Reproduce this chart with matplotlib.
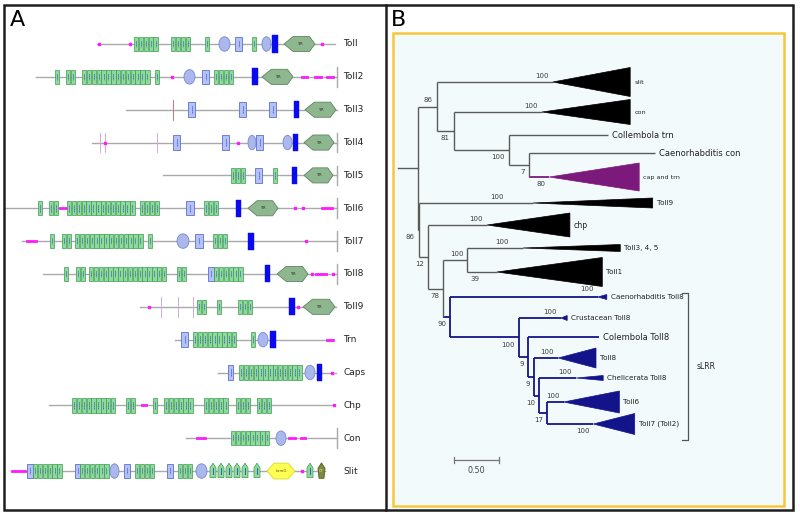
import matplotlib.pyplot as plt
from matplotlib.patches import Rectangle, Ellipse, Polygon

# ---------------- panel A: domain architecture ----------------
proteins = ['Toll', 'Toll2', 'Toll3', 'Toll4', 'Toll5', 'Toll6', 'Toll7',
            'Toll8', 'Toll9', 'Trn', 'Caps', 'Chp', 'Con', 'Slit']
prot_start = [97, 36, 126, 92, 163, 5, 22, 43, 140, 175, 218, 49, 186, 12]
prot_end = [335, 337, 337, 337, 337, 337, 337, 337, 336, 333, 336, 335, 337, 325]
end_tick = [False, True, False, True, True, True, True, True, False, False,
            False, False, True, False]

# (kind, start, end or repeat count)
domains = [
    [('dot', 99, 0), ('dot', 130, 0), ('lrr', 134, 5), ('lrr', 171, 4), ('lrr', 205, 1),
     ('oval', 219, 230), ('box', 235, 242), ('lrr', 252, 1), ('oval', 262, 271),
     ('tm', 272, 278), ('tir', 284, 315), ('dot', 322, 0)],
    [('lrr', 55, 1), ('lrr', 66, 2), ('lrr', 82, 14), ('lrr', 155, 1), ('dot', 172, 0),
     ('oval', 184, 195), ('box', 202, 209), ('lrr', 214, 4), ('tm', 252, 258),
     ('tir', 262, 293), ('dash', 302, 307), ('dash', 315, 321), ('dash', 327, 333)],
    [('thin', 173, 0), ('box', 188, 195), ('box', 239, 246), ('box', 269, 276),
     ('tm', 294, 299), ('tir', 305, 336)],
    [('thin', 100, 0), ('thin', 105, 0), ('dot', 105, 0), ('thin', 157, 0),
     ('box', 173, 180), ('box', 222, 229), ('dot', 238, 0), ('oval', 248, 256),
     ('box', 256, 263), ('oval', 283, 292), ('tm', 293, 298), ('tir', 304, 334)],
    [('lrr', 231, 3), ('box', 255, 262), ('lrr', 273, 1), ('tm', 292, 297),
     ('tir', 304, 333)],
    [('lrr', 38, 1), ('lrr', 49, 2), ('dash', 60, 66), ('lrr', 67, 14), ('lrr', 140, 4),
     ('box', 186, 194), ('lrr', 204, 3), ('tm', 236, 241), ('tir', 248, 278),
     ('dot', 295, 0), ('dot', 303, 0), ('dash', 322, 332)],
    [('dash', 27, 36), ('lrr', 50, 1), ('lrr', 62, 2), ('lrr', 75, 14), ('lrr', 148, 1),
     ('oval', 177, 189), ('box', 195, 203), ('lrr', 213, 3), ('tm', 248, 254),
     ('dot', 306, 0)],
    [('lrr', 64, 1), ('lrr', 76, 2), ('lrr', 89, 16), ('lrr', 177, 2), ('box', 208, 214),
     ('lrr', 214, 6), ('tm', 265, 270), ('tir', 277, 308), ('dot', 312, 0),
     ('dash', 316, 326), ('dot', 333, 0)],
    [('dot', 149, 0), ('thin', 161, 0), ('thin', 178, 0), ('thin', 193, 0),
     ('lrr', 197, 2), ('lrr', 217, 1), ('lrr', 238, 3), ('tm', 289, 295),
     ('dot', 298, 0), ('tir', 303, 335)],
    [('box', 181, 188), ('lrr', 193, 9), ('lrr', 251, 1), ('oval', 258, 268),
     ('tm', 270, 276), ('dash', 327, 333)],
    [('box', 228, 233), ('lrr', 239, 13), ('oval', 305, 315), ('tm', 317, 322),
     ('dot', 332, 0)],
    [('lrr', 72, 9), ('lrr', 126, 2), ('dash', 142, 146), ('lrr', 153, 1),
     ('lrr', 164, 6), ('lrr', 204, 5), ('lrr', 236, 3), ('lrr', 257, 3), ('dot', 334, 0)],
    [('dash', 197, 205), ('lrr', 231, 8), ('oval', 276, 286), ('dash', 289, 295),
     ('dash', 301, 305)],
    [('dash', 12, 25), ('box', 27, 33), ('lrr', 33, 6), ('box', 75, 80), ('lrr', 80, 6),
     ('oval', 110, 119), ('box', 124, 130), ('lrr', 135, 4), ('box', 167, 173),
     ('lrr', 178, 3), ('oval', 196, 207), ('egf', 210, 0), ('egf', 218, 0),
     ('egf', 226, 0), ('egf', 234, 0), ('egf', 242, 0), ('egf', 254, 0),
     ('lamg', 267, 295), ('dot', 302, 0), ('egf', 307, 0), ('ct', 318, 325)],
]
thin_colour = ['#e07070', '#d8a8d8', '#c8b0d8']  # Toll3, Toll4, Toll9 style

# ---------------- panel B: phylogeny ----------------
inner = ['R', 'A', 'C', 'D', 'E', 'G', 'F', 'H', 'I', 'J', 'K', 'L', 'M', 'N', 'O']
inner_parent = [None, 'R', 'A', 'C', 'D', 'R', 'G', 'F', 'H', 'H', 'J', 'K', 'L', 'M', 'N']
inner_len = [0.22, 0.21, 0.19, 0.61, 0.22, 0.01, 0.10, 0.17, 0.27, 0.08, 0.76,
             0.10, 0.07, 0.06, 0.09]
inner_support = [None, 86, 81, 100, 7, 86, 12, 78, 100, 90, 100, 9, 9, 10, 17]
inner_side = [None, 'up', 'down', 'down', 'down', 'down', 'down', 'down', 'up',
              'down', 'down', 'down', 'down', 'down', 'down']

leaf_names = ['slit', 'con', 'Collembola trn', 'Caenorhabditis con', 'cap and trn',
              'Toll9', 'chp', 'Toll3, 4, 5', 'Toll1', 'Caenorhabditis Toll8',
              'Crustacean Toll8', 'Colembola Toll8', 'Toll8', 'Chelicerata Toll8',
              'Toll6', 'Toll7 (Toll2)']
leaf_parent = ['A', 'C', 'D', 'E', 'E', 'G', 'F', 'I', 'I', 'J', 'K', 'L', 'M', 'N', 'O', 'O']
leaf_len = [1.29, 0.98, 1.10, 1.40, 0.23, 1.27, 0.66, 0.62, 0.33, 1.64, 0.47, 0.79,
            0.27, 0.41, 0.18, 0.51]
clade_len = [0.86, 0.98, 0, 0, 1.00, 1.33, 0.92, 1.08, 1.17, 0.10, 0.07, 0, 0.42,
             0.30, 0.62, 0.46]
clade_half = [1.45, 1.25, 0, 0, 1.40, 0.50, 1.20, 0.35, 1.45, 0.25, 0.25, 0, 1.00,
              0.25, 1.10, 1.05]
leaf_support = [100, 100, None, None, 80, 100, 100, 100, 39, None, 100, None, 100,
                100, 100, 100]
leaf_side = ['up', 'up', None, None, 'down', 'up', 'up', 'up', 'down', None, 'up',
             None, 'up', 'up', 'up', 'down']
leaf_fs = [4.6, 4.6, 6, 6, 4.6, 5.2, 5.6, 5.2, 5.2, 5.2, 5.2, 6, 5.2, 5.2, 5.2, 5.2]

# layout of leaves (gap between successive leaves, in 10 px units)
leaf_gap = [3.0, 2.3, 1.8, 2.4, 2.6, 2.2, 2.3, 2.4, 2.5, 2.1, 1.9, 2.1, 2.0, 2.4, 2.2]
first_leaf = 8.2
blue_clade = 'J'

fig = plt.figure(figsize=(8, 5.15), dpi=100)
W, H = 800.0, 515.0


def fx(px):
    return px / W


def fy(py):
    return 1 - py / H


# ---- panel A axes
axA = fig.add_axes([0, 0, fx(385.5), 1])
axA.set_xlim(0, 385.5)
row0, rowh = 44, 32.85
axA.set_ylim((H - row0) / rowh, -row0 / rowh)
axA.axis('off')

BW = 4.85
c_lrr, e_lrr = '#8fd99d', '#3a9d4d'
c_box, e_box = '#b3c2f2', '#5b70d6'
c_tm = '#0a0aee'
mag = '#ff1aff'

for i, name in enumerate(proteins):
    y = i
    axA.plot([prot_start[i], prot_end[i]], [y, y], color='#a9a9a9', lw=1.0, zorder=1)
    if end_tick[i]:
        axA.plot([337, 337], [y - 0.3, y + 0.3], color='#a9a9a9', lw=1.0, zorder=1)
    axA.text(343, y, name, fontsize=6.5, va='center', ha='left', color='#222')
    tcol = thin_colour[0] if name == 'Toll3' else (thin_colour[1] if name == 'Toll4'
                                                   else thin_colour[2])
    for kind, a, b in domains[i]:
        if kind == 'lrr':
            for k in range(b):
                x0 = a + k * BW
                axA.add_patch(Rectangle((x0, y - 0.22), BW * 0.92, 0.44, fc=c_lrr,
                                        ec=e_lrr, lw=0.5, zorder=3))
                axA.plot([x0 + BW * 0.46] * 2, [y - 0.1, y + 0.1], color='#2b3dd0',
                         lw=0.7, ls=(0, (1, 1)), zorder=4)
        elif kind == 'box':
            axA.add_patch(Rectangle((a, y - 0.22), b - a, 0.44, fc=c_box, ec=e_box,
                                    lw=0.6, zorder=3))
            axA.plot([(a + b) / 2] * 2, [y - 0.1, y + 0.1], color='#2b3dd0',
                     lw=0.7, ls=(0, (1, 1)), zorder=4)
        elif kind == 'oval':
            axA.add_patch(Ellipse(((a + b) / 2, y), b - a, 0.44, fc='#aab8ec',
                                  ec='#7788d4', lw=0.6, zorder=3))
        elif kind == 'tm':
            axA.add_patch(Rectangle((a, y - 0.26), b - a, 0.52, fc=c_tm, ec=c_tm,
                                    lw=0.3, zorder=3))
        elif kind == 'tir':
            w = b - a
            pts = [(a, y), (a + 0.3 * w, y - 0.23), (a + 0.82 * w, y - 0.23), (b, y),
                   (a + 0.82 * w, y + 0.23), (a + 0.3 * w, y + 0.23)]
            axA.add_patch(Polygon(pts, closed=True, fc='#8fb78f', ec='#5e855e',
                                  lw=0.6, zorder=3))
            axA.text(a + 0.5 * w, y, 'TIR', fontsize=2.5, ha='center', va='center',
                     color='#222', zorder=4)
        elif kind == 'dot':
            axA.plot([a], [y], 's', ms=2.0, color=mag, mec=mag, zorder=3)
        elif kind == 'dash':
            axA.plot([a, b], [y, y], color=mag, lw=2.0, zorder=3)
        elif kind == 'thin':
            axA.plot([a, a], [y - 0.3, y + 0.3], color=tcol, lw=0.7, zorder=2)
        elif kind == 'egf':
            pts = [(a, y - 0.1), (a + 3, y - 0.24), (a + 6, y - 0.1), (a + 6, y + 0.2),
                   (a, y + 0.2)]
            axA.add_patch(Polygon(pts, closed=True, fc='#8fd99d', ec='#3a9d4d',
                                  lw=0.5, zorder=3))
            axA.plot([a + 3] * 2, [y - 0.08, y + 0.1], color='#2b3dd0', lw=0.6, zorder=4)
        elif kind == 'lamg':
            w = b - a
            pts = [(a, y), (a + 0.25 * w, y - 0.24), (a + 0.75 * w, y - 0.24), (b, y),
                   (a + 0.75 * w, y + 0.24), (a + 0.25 * w, y + 0.24)]
            axA.add_patch(Polygon(pts, closed=True, fc='#ffff55', ec='#d8d820',
                                  lw=0.6, zorder=3))
            axA.text(a + 0.5 * w, y, 'LamG', fontsize=2.8, ha='center', va='center',
                     color='#665500', zorder=4)
        elif kind == 'ct':
            w = b - a
            pts = [(a, y - 0.08), (a + 0.5 * w, y - 0.25), (b, y - 0.08),
                   (b - 0.15 * w, y + 0.22), (a + 0.15 * w, y + 0.22)]
            axA.add_patch(Polygon(pts, closed=True, fc='#7e8c3c', ec='#4f5a20',
                                  lw=0.6, zorder=3))
            axA.text(a + 0.5 * w, y, 'CT', fontsize=2.5, ha='center', va='center',
                     color='#dde0aa', zorder=4)

# ---- panel B axes
x0px, upx = 398, 90.0
axB = fig.add_axes([fx(385.5), 0, fx(793 - 385.5), 1])
axB.set_xlim((385.5 - x0px) / upx, (793 - x0px) / upx)
axB.set_ylim(H / 10, 0)
axB.axis('off')

# yellow framed background
fig.add_artist(Rectangle((fx(392.5), fy(506)), fx(784 - 392.5), (506 - 33) / H,
                         transform=fig.transFigure, fc='#f3fafb', ec='#f5c83c',
                         lw=1.8, zorder=0))

# tree layout
parent = dict(zip(inner, inner_parent))
parent.update(dict(zip(leaf_names, leaf_parent)))
blen = dict(zip(inner, inner_len))
blen.update(dict(zip(leaf_names, leaf_len)))
children = {n: [] for n in inner}
for n in inner[1:] + leaf_names:
    children[parent[n]].append(n)

ypos = {}
yy = first_leaf
for k, n in enumerate(leaf_names):
    ypos[n] = yy
    if k < len(leaf_gap):
        yy += leaf_gap[k]

xpos = {}


def place(n, x):
    xpos[n] = x + blen[n]
    if n in children:
        for c in children[n]:
            place(c, xpos[n])
        ys = [ypos[c] for c in children[n]]
        ypos[n] = (ys[0] + ys[-1]) / 2


place('R', 0.0)


def in_clade(n, top):
    while n is not None:
        if n == top:
            return True
        n = parent.get(n)
    return False


def colour(n):
    if n == 'cap and trn':
        return '#7c1a7c'
    if in_clade(n, blue_clade):
        return '#14148a'
    return '#5a5a5a'


# root stub
axB.plot([0, xpos['R']], [ypos['R']] * 2, color='#5a5a5a', lw=1.0)
for n in inner[1:] + leaf_names:
    p = parent[n]
    c = colour(n)
    lw = 1.3 if c != '#5a5a5a' else 1.0
    axB.plot([xpos[p], xpos[n]], [ypos[n]] * 2, color=c, lw=lw, solid_capstyle='butt')
for n in inner:
    ys = [ypos[c] for c in children[n]]
    c = colour(n)
    lw = 1.3 if c != '#5a5a5a' else 1.0
    axB.plot([xpos[n]] * 2, [min(ys), max(ys)], color=c, lw=lw, solid_capstyle='butt')

# collapsed clades and leaf labels
for k, n in enumerate(leaf_names):
    xa, y = xpos[n], ypos[n]
    fc = colour(n)
    if fc == '#5a5a5a':
        fc = 'black'
    xe = xa + clade_len[k]
    if clade_len[k] > 0:
        hh = clade_half[k]
        axB.add_patch(Polygon([(xa, y), (xe, y - hh), (xe, y + hh)], closed=True,
                              fc=fc, ec=fc, lw=0.5))
    axB.text(xe + 0.045, y, n, fontsize=leaf_fs[k], va='center', ha='left',
             color='#222')

# bootstrap values
sup_col = '#3c3c3c'
special_dx = {'Toll9': 0.32, 'Toll3, 4, 5': 0.16, 'Toll1': 0.19}
for k, n in enumerate(leaf_names):
    if leaf_support[k] is None:
        continue
    dx = special_dx.get(n, 0.045)
    dy = -0.62 if leaf_side[k] == 'up' else 0.72
    axB.text(xpos[n] - dx, ypos[n] + dy, str(leaf_support[k]), fontsize=5,
             ha='right', va='center', color=sup_col)
for k, n in enumerate(inner):
    if inner_support[k] is None:
        continue
    dy = -0.62 if inner_side[k] == 'up' else 0.72
    axB.text(xpos[n] - 0.045, ypos[n] + dy, str(inner_support[k]), fontsize=5,
             ha='right', va='center', color=sup_col)
# support printed under the Toll1 wedge
t1 = leaf_names.index('Toll1')
axB.text(xpos['Toll1'] + clade_len[t1] - 0.17, ypos['Toll1'] + clade_half[t1] + 0.25,
         '100', fontsize=5, ha='center', va='center', color=sup_col)

# sLRR bracket
bl = [n for n in leaf_names if in_clade(n, blue_clade)]
ytop = ypos[bl[0]] - 0.4
ybot = ypos[bl[-1]] + clade_half[leaf_names.index(bl[-1])] + 0.5
xb = 3.22
axB.plot([xb - 0.06, xb, xb, xb - 0.06], [ytop, ytop, ybot, ybot], color='#555', lw=0.9)
axB.text(xb + 0.1, (ytop + ybot) / 2, 'sLRR', fontsize=5.5, va='center', ha='left',
         color='#222')

# scale bar
sb_x, sb_len, sb_y = 0.62, 0.50, 46.0
axB.plot([sb_x, sb_x + sb_len], [sb_y, sb_y], color='#777', lw=0.9)
for xv in (sb_x, sb_x + sb_len):
    axB.plot([xv, xv], [sb_y - 0.3, sb_y + 0.3], color='#777', lw=0.9)
axB.text(sb_x + sb_len / 2, sb_y + 0.55, '0.50', fontsize=5.8, ha='center', va='top',
         color='#444')

# frame and panel letters
fig.add_artist(Rectangle((fx(3.5), fy(510)), fx(793 - 3.5), (510 - 4.5) / H,
                         transform=fig.transFigure, fill=False, ec='#1e1e1e', lw=1.8))
fig.add_artist(plt.Line2D([fx(385.5)] * 2, [fy(4.5), fy(510)],
                          transform=fig.transFigure, color='#1e1e1e', lw=1.8))
fig.text(fx(10), fy(10), 'A', fontsize=16, va='top', ha='left')
fig.text(fx(391), fy(10), 'B', fontsize=16, va='top', ha='left')

fig.savefig('out.png', dpi=100)
